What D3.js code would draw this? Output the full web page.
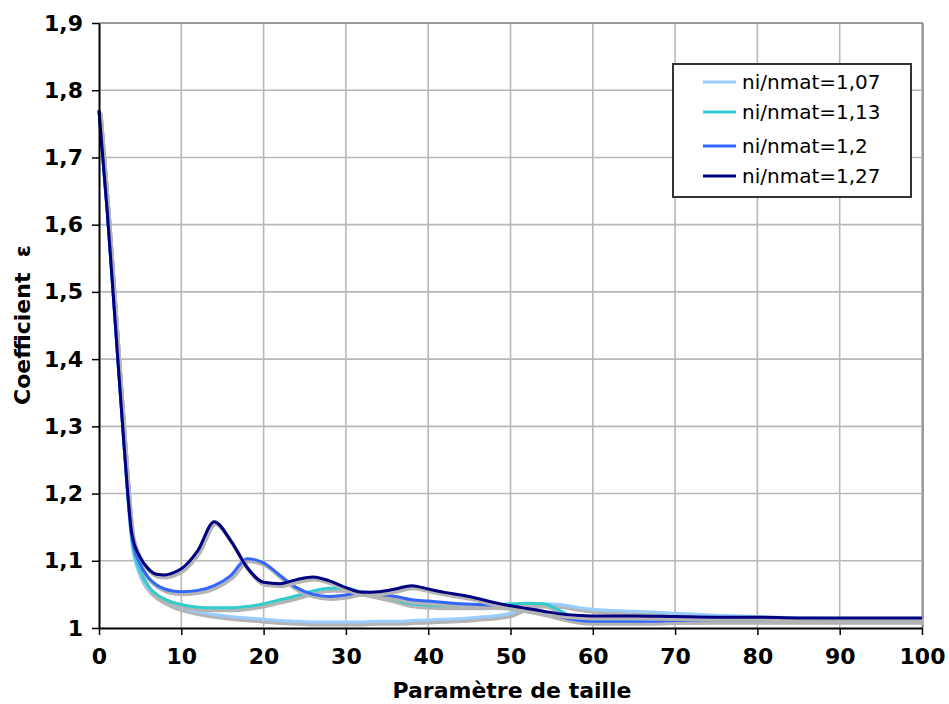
<!DOCTYPE html>
<html><head><meta charset="utf-8">
<script src="https://cdn.jsdelivr.net/npm/d3@7"></script>
<style>body{margin:0;background:#fff}svg{display:block}text{white-space:pre}</style>
</head><body><svg id="c" width="949" height="704"></svg>
<script>
const xs = [0,1,2,3,4,5,6,7,8,9,10,12,14,16,18,20,22,24,26,28,30,32,34,36,38,40,42,44,46,48,50,52,54,56,58,60,65,70,75,80,85,90,95,100];
const s107 = [1.77,1.62,1.45,1.28,1.125,1.078,1.058,1.047,1.040,1.034,1.030,1.024,1.020,1.017,1.015,1.013,1.011,1.010,1.009,1.009,1.009,1.009,1.010,1.010,1.011,1.012,1.013,1.014,1.016,1.018,1.022,1.032,1.036,1.035,1.031,1.028,1.025,1.022,1.019,1.017,1.015,1.014,1.013,1.013];
const s113 = [1.77,1.62,1.45,1.28,1.13,1.085,1.062,1.050,1.043,1.038,1.035,1.031,1.030,1.030,1.032,1.036,1.042,1.048,1.055,1.059,1.059,1.053,1.048,1.042,1.036,1.034,1.033,1.033,1.033,1.034,1.036,1.037,1.036,1.026,1.015,1.013,1.012,1.012,1.012,1.012,1.012,1.012,1.012,1.012];
const s120 = [1.77,1.62,1.45,1.28,1.135,1.095,1.075,1.064,1.058,1.055,1.054,1.056,1.063,1.078,1.103,1.097,1.078,1.060,1.050,1.047,1.049,1.054,1.050,1.047,1.042,1.040,1.038,1.036,1.035,1.034,1.032,1.028,1.023,1.017,1.012,1.010,1.010,1.011,1.012,1.012,1.012,1.012,1.012,1.012];
const s127 = [1.77,1.62,1.45,1.28,1.14,1.105,1.088,1.080,1.079,1.082,1.088,1.115,1.158,1.130,1.090,1.068,1.066,1.072,1.076,1.070,1.060,1.053,1.054,1.058,1.063,1.058,1.053,1.049,1.044,1.038,1.033,1.029,1.025,1.021,1.019,1.018,1.018,1.017,1.016,1.016,1.015,1.015,1.015,1.015];
const seriesNames = ["ni/nmat=1,07","ni/nmat=1,13","ni/nmat=1,2","ni/nmat=1,27"];
const seriesColors = ["#99ccff","#33cccc","#3366ff","#000080"];
const xTicks = [0,10,20,30,40,50,60,70,80,90,100];
const yTicks = [1,1.1,1.2,1.3,1.4,1.5,1.6,1.7,1.8,1.9];
const xTitle = "Paramètre de taille";
const yTitle = "Coefficient  ε";

const series = [s107,s113,s120,s127];
const svg = d3.select("#c");
const L=99, R=922, T=23, B=628;
const x = d3.scaleLinear().domain([0,100]).range([L,R]);
const y = d3.scaleLinear().domain([1,1.9]).range([B,T]);

// grid
const g = svg.append("g");
g.selectAll("line.v").data(xTicks.slice(1)).enter().append("line")
  .attr("x1",d=>x(d)).attr("x2",d=>x(d)).attr("y1",T).attr("y2",B)
  .attr("stroke","#b8b8b8").attr("stroke-width",1.6);
g.selectAll("line.h").data(yTicks.slice(1)).enter().append("line")
  .attr("x1",L).attr("x2",R).attr("y1",d=>y(d)).attr("y2",d=>y(d))
  .attr("stroke","#b8b8b8").attr("stroke-width",1.6);
svg.append("line").attr("x1",L).attr("x2",R+1).attr("y1",T).attr("y2",T).attr("stroke","#888").attr("stroke-width",1.6);
svg.append("line").attr("x1",R+1).attr("x2",R+1).attr("y1",T).attr("y2",B).attr("stroke","#888").attr("stroke-width",1.6);

// lines
const line = d3.line().x((d,i)=>x(xs[i])).y(d=>y(d)).curve(d3.curveMonotoneX);
series.forEach((s,k)=>{
  svg.append("path").attr("d",line(s)).attr("fill","none")
    .attr("stroke","#b4b4b4").attr("stroke-width",4).attr("stroke-linejoin","round")
    .attr("transform","translate(1.5,2.5)");
  svg.append("path").attr("d",line(s)).attr("fill","none")
    .attr("stroke",seriesColors[k]).attr("stroke-width",3).attr("stroke-linejoin","round");
});

// axes
const xAxis = d3.axisBottom(x).tickValues(xTicks).tickSize(7).tickSizeOuter(0).tickPadding(13).tickFormat(d3.format("d"));
const gx = svg.append("g").attr("transform",`translate(0,${B})`).call(xAxis);
gx.select(".domain").attr("stroke","#000").attr("stroke-width",2);
gx.selectAll(".tick line").attr("stroke","#000").attr("stroke-width",1.5);
gx.selectAll("text").attr("font-family","DejaVu Sans").attr("font-weight","bold").attr("font-size",22).attr("fill","#000");

const yAxis = d3.axisLeft(y).tickValues(yTicks).tickSize(7).tickSizeOuter(0).tickPadding(9)
  .tickFormat(d=> d===1 ? "1" : d3.format(".1f")(d).replace(".",","));
const gy = svg.append("g").attr("transform",`translate(${L},0)`).call(yAxis);
gy.select(".domain").attr("stroke","#000").attr("stroke-width",2);
gy.selectAll(".tick line").attr("stroke","#000").attr("stroke-width",1.5);
gy.selectAll("text").attr("font-family","DejaVu Sans").attr("font-weight","bold").attr("font-size",22).attr("fill","#000");

// titles
svg.append("text").attr("x",512).attr("y",698).attr("text-anchor","middle")
  .attr("font-family","DejaVu Sans").attr("font-weight","bold").attr("font-size",22).text(xTitle);
svg.append("text").attr("transform",`translate(30,325) rotate(-90)`).attr("text-anchor","middle")
  .attr("font-family","DejaVu Sans").attr("font-weight","bold").attr("font-size",22).text(yTitle);

// legend
const lg = svg.append("g");
lg.append("rect").attr("x",673).attr("y",64).attr("width",238).attr("height",133)
  .attr("fill","#fff").attr("stroke","#333").attr("stroke-width",2);
const rows=[82,112,146,176];
seriesNames.forEach((n,k)=>{
  lg.append("line").attr("x1",703).attr("x2",736).attr("y1",rows[k]).attr("y2",rows[k])
    .attr("stroke",seriesColors[k]).attr("stroke-width",3);
  lg.append("text").attr("x",742).attr("y",rows[k]).attr("dy","0.35em")
    .attr("font-family","DejaVu Sans").attr("font-size",20).text(n);
});
</script></body></html>
